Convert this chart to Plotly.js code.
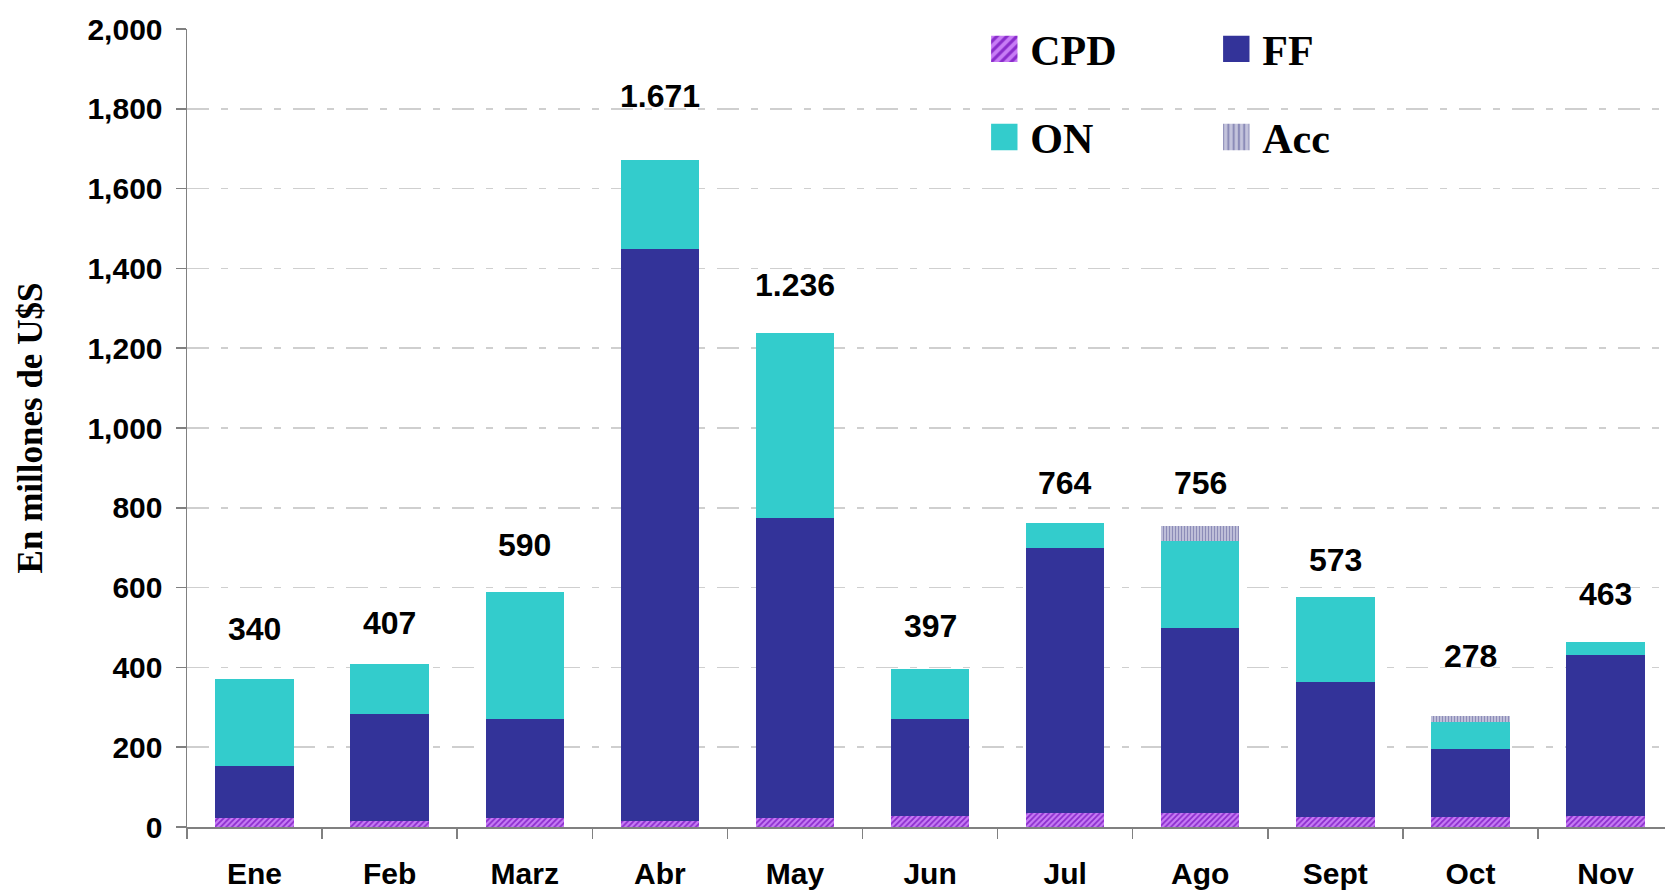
<!DOCTYPE html>
<html><head><meta charset="utf-8">
<script src="https://cdn.plot.ly/plotly-3.0.1.min.js"></script>
<style>html,body{margin:0;padding:0;background:#fff;overflow:hidden}#chart{width:1665px;height:893px}</style>
</head><body><div id="chart"></div>
<script>
const months = ["Ene","Feb","Marz","Abr","May","Jun","Jul","Ago","Sept","Oct","Nov"];
const cpd = [23, 15, 23, 15, 23, 28, 35, 35, 26, 26, 27];
const ff  = [130, 267, 247, 1434, 751, 243, 664, 463, 337, 169, 403];
const on  = [217, 126, 318, 223, 464, 124, 63, 219, 213, 68, 33];
const acc = [0, 0, 0, 0, 0, 0, 0, 37, 0, 14, 0];
const totalLabels = ["340","407","590","1.671","1.236","397","764","756","573","278","463"];
const labelY = [496, 511, 706, 1831, 1359, 504, 863, 863, 669, 428, 583];
const yTicks = [0,200,400,600,800,1000,1200,1400,1600,1800,2000];

const arial = {family:"Liberation Sans, Arial, sans-serif", size:30, color:"#000", weight:700};
const labelFont = {family:"Liberation Sans, Arial, sans-serif", size:32, color:"#000", weight:700};
const times = {family:"Liberation Serif, Times New Roman, serif", size:42, color:"#000", weight:700};

const traces = [
  {type:"bar", name:"CPD", x:months, y:cpd, legend:"legend",
   marker:{color:"#c070f0", line:{width:0}, pattern:{shape:"/", fgcolor:"#8a2ccc", bgcolor:"#c77cf5", size:4, solidity:0.45}}},
  {type:"bar", name:"FF", x:months, y:ff, legend:"legend",
   marker:{color:"#333399", line:{width:0}}},
  {type:"bar", name:"ON", x:months, y:on, legend:"legend2",
   marker:{color:"#33cccc", line:{width:0}}},
  {type:"bar", name:"Acc", x:months, y:acc, legend:"legend2",
   marker:{color:"#aaaacc", line:{width:0}, pattern:{shape:"|", fgcolor:"#8c8cb8", bgcolor:"#c4c4dc", size:3, solidity:0.4}}}
];

const annotations = months.map((m,i)=>({
  x:m, y:labelY[i], xref:"x", yref:"y", text:totalLabels[i], showarrow:false,
  font:labelFont, xanchor:"center", yanchor:"middle"
}));

const layout = {
  width:1665, height:893,
  margin:{l:187, r:0, t:29, b:66},
  paper_bgcolor:"#fff", plot_bgcolor:"#fff",
  barmode:"stack", bargap:0.42,
  showlegend:true,
  legend:{x:0.5435, y:1.0175, xanchor:"left", yanchor:"top", orientation:"h", entrywidth:187, traceorder:"normal",
          font:times, bgcolor:"rgba(0,0,0,0)", itemwidth:30},
  legend2:{x:0.5435, y:0.907, xanchor:"left", yanchor:"top", orientation:"h", entrywidth:187, traceorder:"normal",
          font:times, bgcolor:"rgba(0,0,0,0)", itemwidth:30},
  xaxis:{type:"category", range:[-0.5, 10.44], showgrid:false, showline:true, linecolor:"#808080", linewidth:1.5,
         ticks:"outside", tickson:"boundaries", ticklen:10, tickcolor:"#808080", tickwidth:1.5,
         tickfont:arial, ticklabelstandoff:19, fixedrange:true},
  yaxis:{range:[0,2000], tickvals:yTicks, tickformat:",d", showgrid:true, gridcolor:"#cfcfcf", gridwidth:1.5,
         griddash:"22px,12px,7px,12px", showline:true, linecolor:"#808080", linewidth:1.5,
         ticks:"outside", ticklen:10, tickcolor:"#808080", tickwidth:1.5, tickfont:arial,
         ticklabelstandoff:7, zeroline:false,
         title:{text:"En millones de U$S", font:{family:"Liberation Serif, Times New Roman, serif", size:35, color:"#000", weight:700}, standoff:34}},
  annotations:annotations
};

Plotly.newPlot("chart", traces, layout, {staticPlot:true, displayModeBar:false}).then(()=>{
  document.querySelectorAll("#chart .legendpoints path").forEach(p=>{
    const t = p.getAttribute("transform") || "";
    p.setAttribute("transform", t + " translate(-6,0) scale(2.2)");
  });
});
</script></body></html>
